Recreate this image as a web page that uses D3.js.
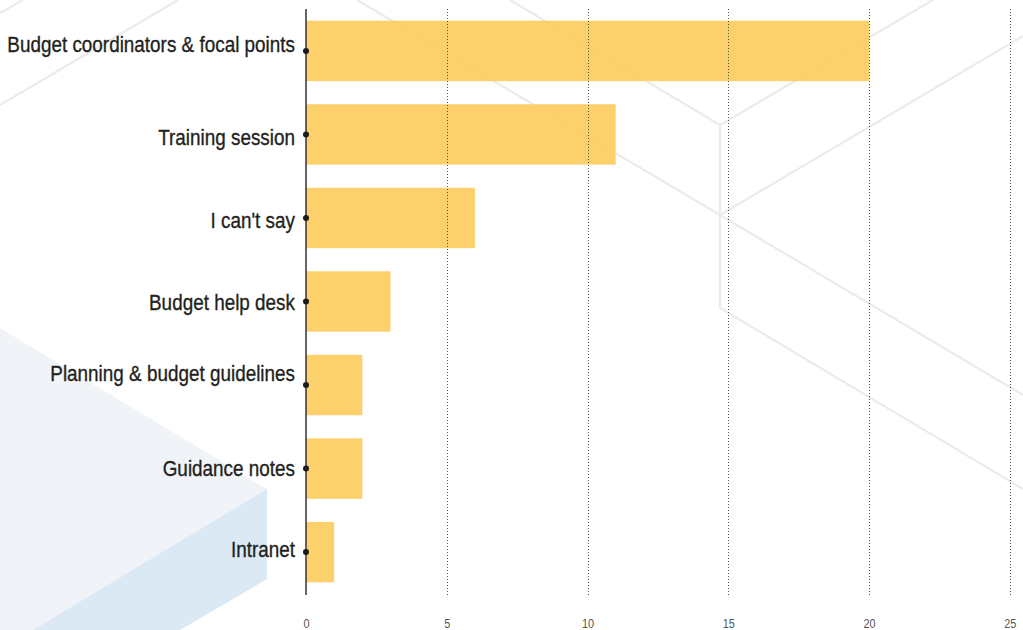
<!DOCTYPE html>
<html>
<head>
<meta charset="utf-8">
<script src="https://cdn.jsdelivr.net/npm/d3@7"></script>
<style>
  html, body { margin: 0; padding: 0; background: #fff; }
  svg { display: block; }
  .cat, .tick text { font-family: "Liberation Sans", Arial, Helvetica, sans-serif; }
</style>
</head>
<body>
<svg id="chart" width="1023" height="630"></svg>
<script>
// Information sources, number of responses
const categories = [
  "Budget coordinators & focal points",
  "Training session",
  "I can't say",
  "Budget help desk",
  "Planning & budget guidelines",
  "Guidance notes",
  "Intranet"
];
const responses = [20, 11, 6, 3, 2, 2, 1];
const xTicks = [0, 5, 10, 15, 20, 25];

const W = 1023, H = 630;
const margin = { top: 9, right: 13, bottom: 35, left: 306 };
const narrow = 0.84; // horizontal squeeze giving a condensed face

const svg = d3.select("#chart");

// --- decorative background: pale hexagon panels and thin outline strokes ---
const bg = svg.append("g");
const poly = d3.line();
bg.append("path")
  .attr("d", poly([[0, 328], [267, 489], [267, 579], [180, 630], [0, 630]]) + "Z")
  .attr("fill", "#f0f4f9");
bg.append("path")
  .attr("d", poly([[267, 489], [267, 579], [180, 630], [33, 630]]) + "Z")
  .attr("fill", "#dae9f4");

const strokes = [
  [[0, 13], [23, 0]],
  [[0, 105], [178, 0]],
  [[510, 0], [720, 125], [933, 0]],
  [[357, 0], [720, 215], [1023, 395]],
  [[720, 215], [1023, 36]],
  [[720, 125], [720, 308], [1023, 489]]
];
bg.selectAll("path.stroke")
  .data(strokes)
  .join("path")
  .attr("class", "stroke")
  .attr("d", d => poly(d))
  .attr("fill", "none")
  .attr("stroke", "#ebebeb")
  .attr("stroke-width", 2.2);

// --- scales ---
const x = d3.scaleLinear()
  .domain([0, 25])
  .range([margin.left, margin.left + 703.75]);

const y = d3.scaleBand()
  .domain(categories)
  .range([margin.top, H - margin.bottom - 1])
  .paddingInner(0.277)
  .paddingOuter(0.14);

// --- bars ---
svg.append("g")
  .selectAll("rect")
  .data(categories)
  .join("rect")
  .attr("x", x(0))
  .attr("y", d => y(d))
  .attr("width", (d, i) => x(responses[i]) - x(0))
  .attr("height", y.bandwidth())
  .attr("fill", "#fccb5b")
  .attr("fill-opacity", 0.9);

// --- dotted vertical gridlines ---
svg.append("g")
  .selectAll("line")
  .data(xTicks.filter(t => t > 0))
  .join("line")
  .attr("x1", d => Math.round(x(d)) + 0.5)
  .attr("x2", d => Math.round(x(d)) + 0.5)
  .attr("y1", margin.top)
  .attr("y2", H - margin.bottom)
  .attr("stroke", "#333")
  .attr("stroke-opacity", 0.85)
  .attr("stroke-width", 1)
  .attr("stroke-dasharray", "1,2");

// --- x axis labels ---
const xAxis = d3.axisBottom(x)
  .tickValues(xTicks)
  .tickSize(0)
  .tickPadding(0)
  .tickFormat(d3.format("d"));
const gx = svg.append("g")
  .attr("transform", "translate(0, 619)")
  .call(xAxis);
gx.select(".domain").remove();
gx.selectAll("text")
  .attr("fill", "#555")
  .attr("font-size", 13)
  .attr("dy", "0.71em")
  .attr("transform", `scale(${narrow},1)`);

// --- category axis line ---
svg.append("line")
  .attr("x1", x(0)).attr("x2", x(0))
  .attr("y1", margin.top).attr("y2", H - margin.bottom)
  .attr("stroke", "#333")
  .attr("stroke-width", 1.5);

// small markers on the axis at each category
svg.append("g")
  .selectAll("circle")
  .data(categories)
  .join("circle")
  .attr("cx", x(0))
  .attr("cy", d => y(d) + y.bandwidth() / 2)
  .attr("r", 3)
  .attr("fill", "#1c1c1c");

// category labels (vertical nudges follow the original layout)
const labelNudge = [-7, 2, 2, 0, -12, -1, -3];
svg.append("g")
  .selectAll("text")
  .data(categories)
  .join("text")
  .attr("class", "cat")
  .attr("transform", (d, i) =>
    `translate(${x(0) - 11}, ${y(d) + y.bandwidth() / 2 + labelNudge[i]}) scale(${narrow},1)`)
  .attr("dy", "0.36em")
  .attr("text-anchor", "end")
  .attr("font-size", 22.5)
  .attr("fill", "#231f20")
  .attr("stroke", "#231f20")
  .attr("stroke-width", 0.35)
  .text(d => d);
</script>
</body>
</html>
